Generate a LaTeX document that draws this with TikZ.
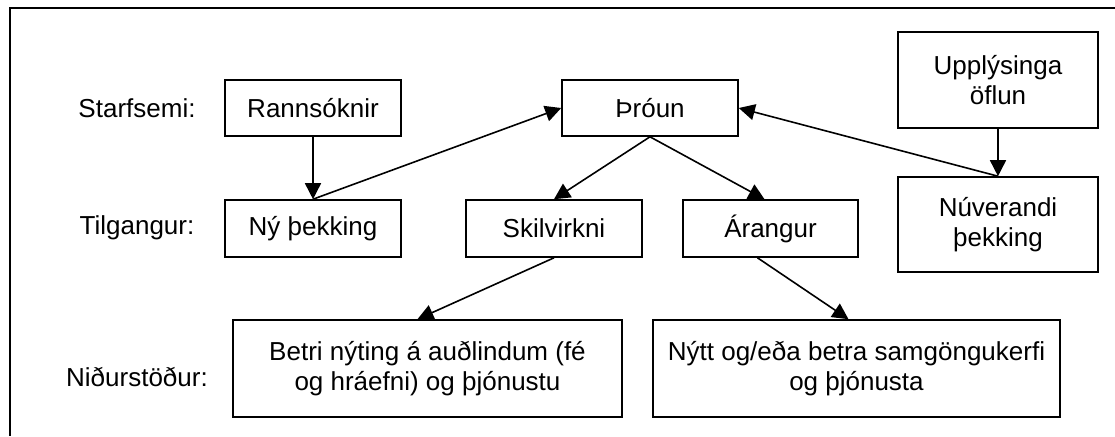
\documentclass[tikz,border=0pt]{standalone}
\usepackage{fontspec}
\setmainfont{Liberation Sans}
\usetikzlibrary{arrows.meta}
\begin{document}
\begin{tikzpicture}[x=0.75pt,y=-0.75pt,
  every node/.style={font=\fontsize{19.5}{22.5}\selectfont},
  box/.style={draw,line width=1.2pt,inner sep=0pt,align=center},
  lbl/.style={inner sep=0pt},
  arr/.style={line width=1.2pt,-{Triangle[length=12pt,width=12pt]}},
  ln/.style={line width=1.2pt}]
\useasboundingbox (0,0) rectangle (1115,436);
\draw[line width=1.5pt] (1115,8) -- (10,8) -- (10,436);
% labels
\node[lbl] (l1) at (137,108) {Starfsemi:};
\node[lbl] (l2) at (137,228) {Tilgangur:};
\node[lbl] (l3) at (137,377) {Niðurstöður:};
% boxes
\node[box,minimum width=176*0.75pt,minimum height=56*0.75pt] (rann) at (313,108) {Rannsóknir};
\node[box,minimum width=176*0.75pt,minimum height=57*0.75pt] (ny) at (313,228.5) {Ný þekking};
\node[box,minimum width=176*0.75pt,minimum height=56*0.75pt] (throun) at (650,108) {Þróun};
\node[box,minimum width=176*0.75pt,minimum height=57*0.75pt] (skil) at (554,228.5) {Skilvirkni};
\node[box,minimum width=175*0.75pt,minimum height=57*0.75pt] (arang) at (770.5,228.5) {Árangur};
\node[box,minimum width=200*0.75pt,minimum height=96*0.75pt] (uppl) at (998,80) {Upplýsinga\\öflun};
\node[box,minimum width=200*0.75pt,minimum height=95*0.75pt] (nuv) at (998,224.5) {Núverandi\\þekking};
\node[box,minimum width=389*0.75pt,minimum height=97*0.75pt] (betri) at (427.5,368.5) {Betri nýting á auðlindum (fé\\og hráefni) og þjónustu};
\node[box,minimum width=407*0.75pt,minimum height=97*0.75pt] (nytt) at (856.5,368.5) {Nýtt og/eða betra samgöngukerfi\\og þjónusta};
% connectors
\draw[arr] (rann.south) -- (ny.north);
\draw[arr] (ny.north) -- (throun.west);
\draw[arr] (throun.south) -- (skil.north);
\draw[arr] (throun.south) -- ([xshift=-6*0.75pt]arang.north);
\draw[arr] (nuv.north) -- (throun.east);
\draw[arr] (uppl.south) -- (nuv.north);
\draw[arr] (skil.south) -- ([xshift=-10*0.75pt]betri.north);
\draw[arr] ([xshift=-13*0.75pt]arang.south) -- ([xshift=-8*0.75pt]nytt.north);
\end{tikzpicture}
\end{document}
